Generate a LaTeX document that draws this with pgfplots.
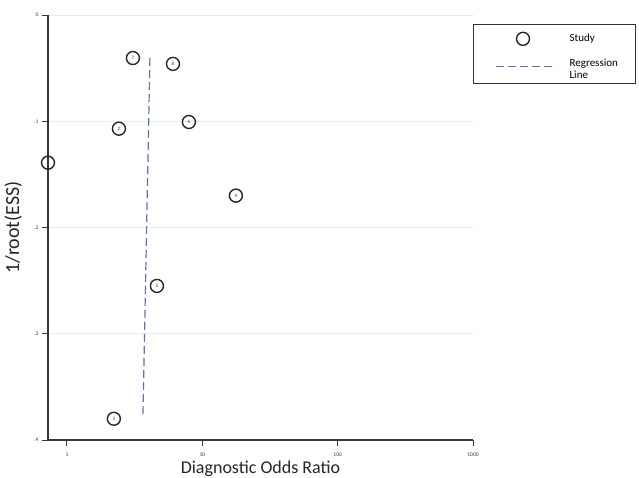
\documentclass[border=0pt]{standalone}
\usepackage{fontspec}
\setmainfont{Carlito}
\usepackage{pgfplots}
\pgfplotsset{compat=1.18}
\definecolor{gridc}{RGB}{222,240,240}
\definecolor{regc}{RGB}{100,115,162}
\definecolor{axc}{RGB}{55,55,55}
\pgfplotsset{
  studylegend/.style={legend image code/.code={\path (0pt,0pt) (93pt,0pt); \draw[mark repeat=2,mark phase=2,##1] plot coordinates {(22pt,0pt) (49pt,0pt) (82pt,0pt)};}},
  reglegend/.style={legend image code/.code={\path (0pt,0pt) (93pt,0pt); \draw[##1] (22pt,0pt) -- (82pt,0pt);}},
}
\begin{document}
\begin{tikzpicture}[x=1pt,y=1pt]
\path[use as bounding box] (0,0) rectangle (639,477);
\begin{axis}[
  at={(48pt,37pt)}, anchor=south west,
  scale only axis, width=425pt, height=425pt,
  xmode=log, xmin=0.724, xmax=1000,
  ymin=0, ymax=0.4, y dir=reverse,
  axis x line*=bottom, axis y line*=left,
  axis line style={-, draw=axc, line width=1.3pt},
  clip=false,
  xtick={1,10,100,1000}, xticklabels={1,10,100,1000},
  ytick={0,0.1,0.2,0.3,0.4}, yticklabels={0,.1,.2,.3,.4},
  xminorticks=false,
  tick align=outside, major tick length=6pt,
  tick style={draw=axc, line width=1pt},
  ticklabel style={font=\fontsize{5.5}{6}\selectfont, text=axc},
  xticklabel style={yshift=-3pt},
  /pgf/number format/assume math mode=true,
  ymajorgrids, grid style={gridc, line width=0.8pt},
  xlabel={Diagnostic Odds Ratio},
  ylabel={1/root(ESS)},
  every axis x label/.style={at={(axis description cs:0.5,-0.068)}, anchor=center, font=\fontsize{18}{20}\selectfont, text=black!85},
  every axis y label/.style={at={(axis description cs:-0.082,0.5)}, anchor=center, rotate=90, font=\fontsize{20}{22}\selectfont, text=black!85},
  legend cell align=left,
  legend style={at={(axis description cs:1,0.979)}, anchor=north west,
    draw=black!80, line width=0.8pt, font=\fontsize{11}{12}\selectfont,
    inner xsep=0pt, inner ysep=8pt, row sep=12pt},
]
\addplot+[only marks, mark=o, mark size=6.5pt, mark options={draw=black!85, line width=1.4pt},
  nodes near coords, point meta=explicit symbolic,
  every node near coord/.append style={anchor=center, font=\fontsize{5}{5}\selectfont, inner sep=0pt, text=black!80},
  studylegend]
  table[meta=label]{
  x y label
  0.724 0.139 1
  2.42 0.107 2
  2.22 0.380 3
  17.7 0.170 4
  4.62 0.255 5
  7.96 0.1007 6
  3.07 0.0405 7
  6.07 0.046 8
};
\addlegendentry{\parbox{64pt}{Study}}
\addplot[no marks, regc, line width=1.2pt, dash pattern=on 8pt off 4pt, reglegend]
  coordinates {(4.10,0.0405) (3.64,0.379)};
\addlegendentry{\parbox{64pt}{Regression\\Line}}
\end{axis}
\end{tikzpicture}
\end{document}
